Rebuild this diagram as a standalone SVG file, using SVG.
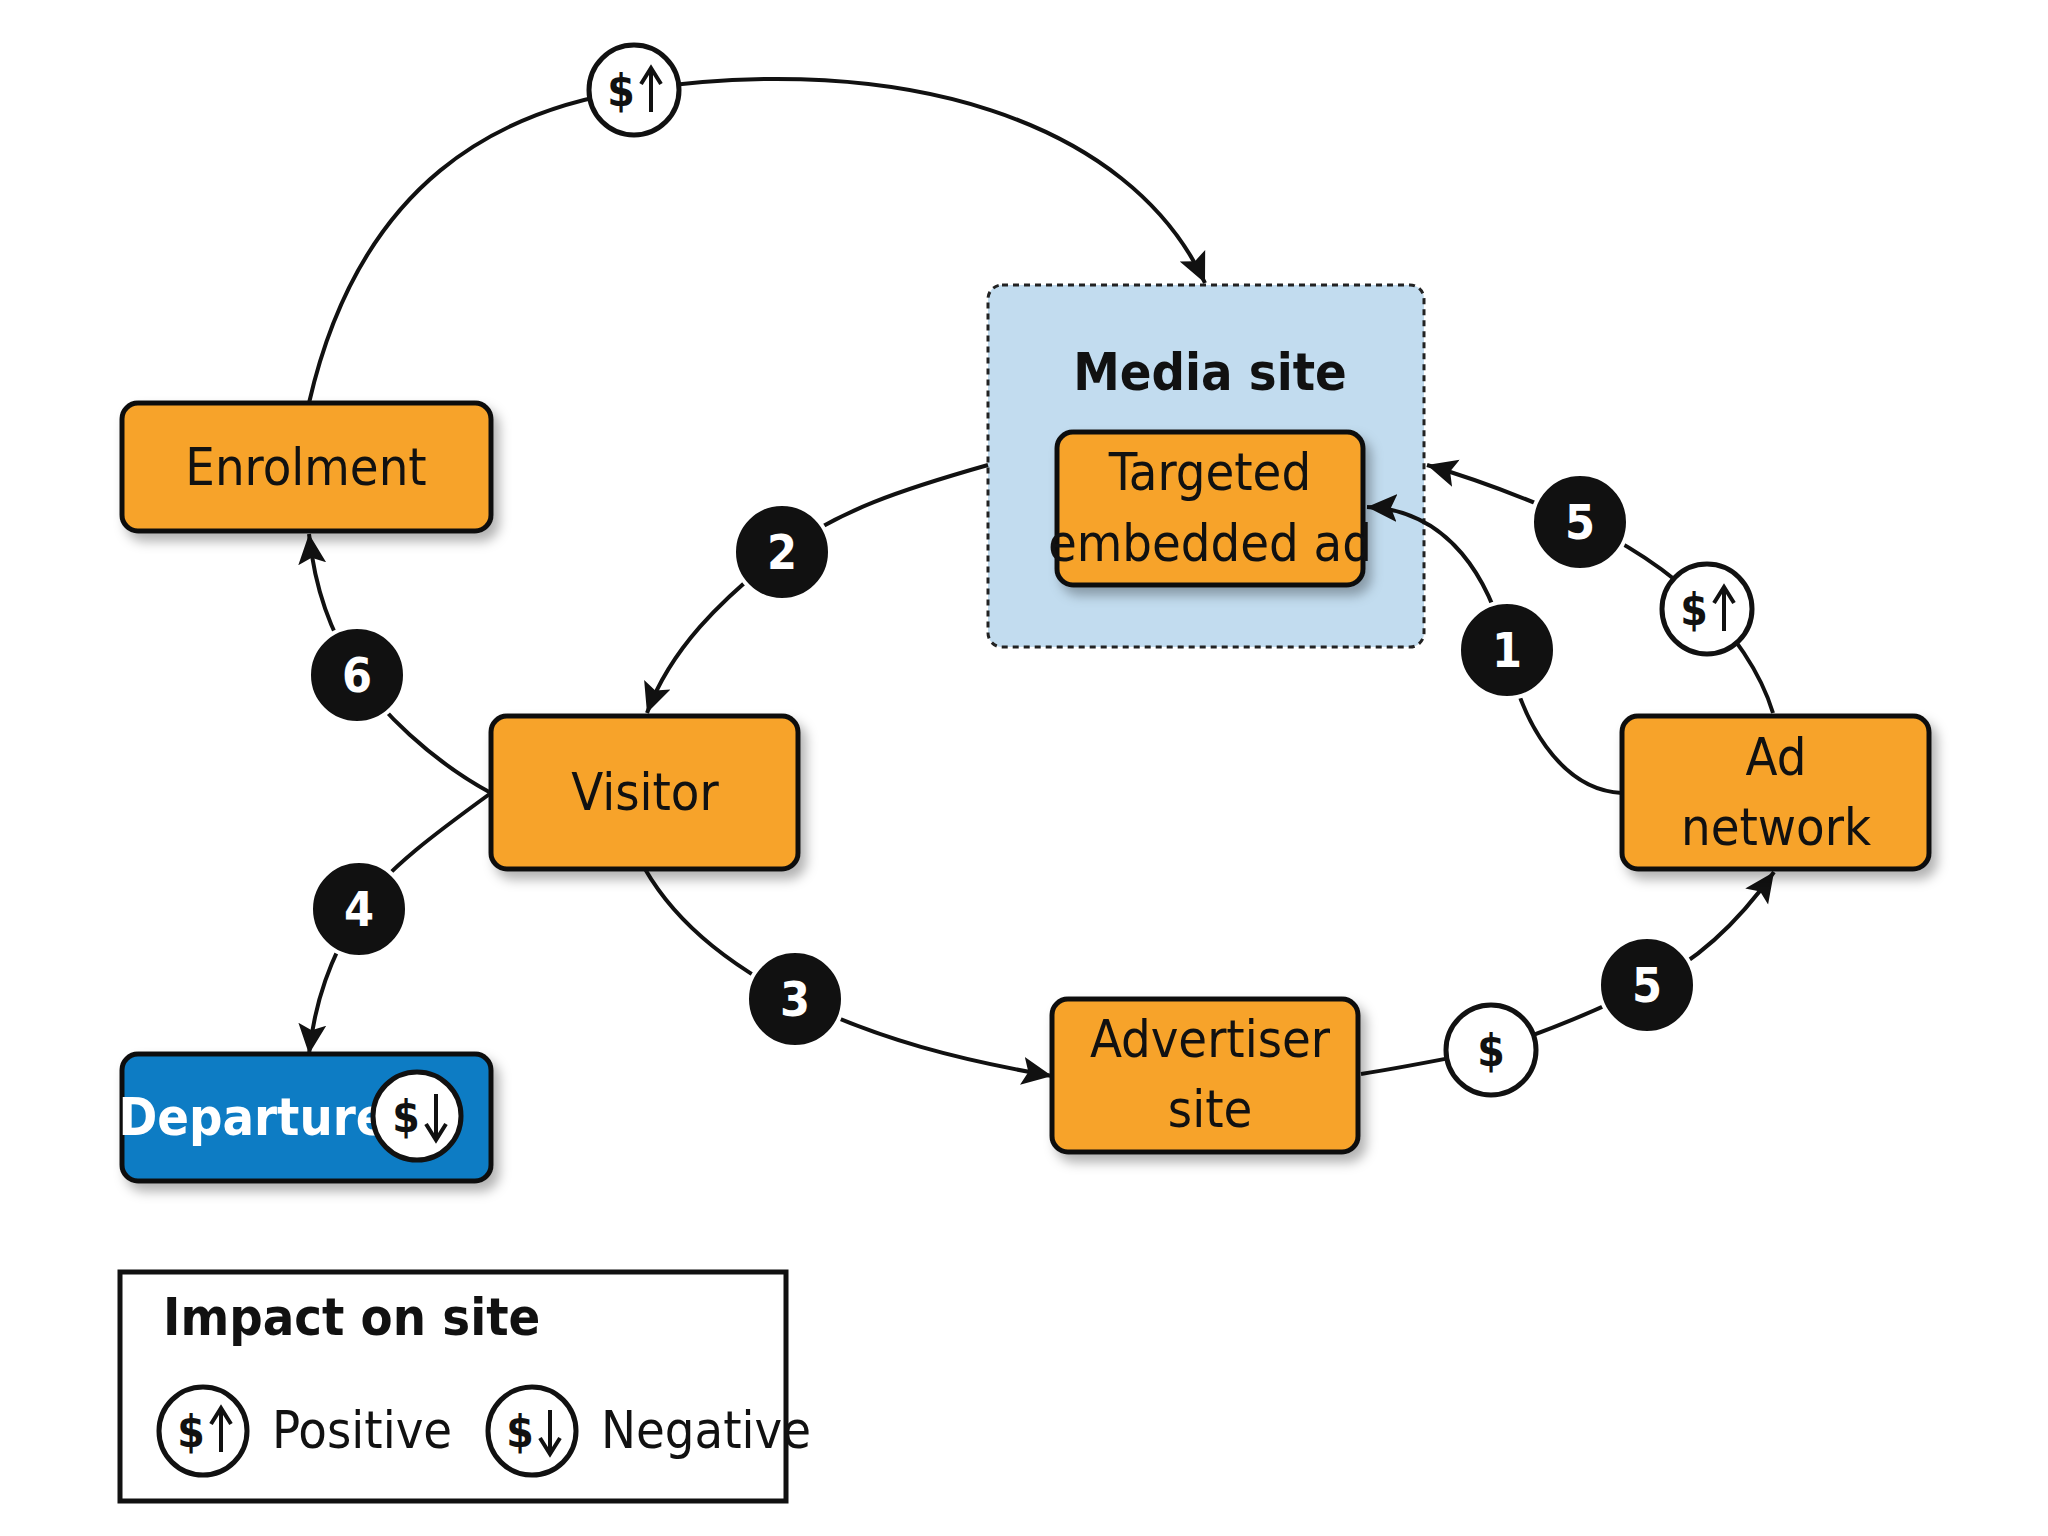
<svg xmlns="http://www.w3.org/2000/svg" width="2048" height="1536" viewBox="0 0 2048 1536">
<style>
.box{fill:#f7a32b;stroke:#111;stroke-width:5}
.t{font-family:"Liberation Sans Narrow","DejaVu Sans Condensed",sans-serif;font-size:52px;fill:#111;text-anchor:middle}
.b{font-weight:bold}
.c{fill:none;stroke:#111;stroke-width:4}
.num{fill:#111;stroke:#fff;stroke-width:4}
.nt{font-family:"Liberation Sans Narrow","DejaVu Sans Condensed",sans-serif;font-size:48px;font-weight:bold;fill:#fff;text-anchor:middle}
.dol{fill:#fff;stroke:#111;stroke-width:5}
.dt{font-family:"Liberation Sans Narrow","DejaVu Sans Condensed",sans-serif;font-size:44px;font-weight:bold;fill:#111;text-anchor:middle}
</style>
<defs>
<filter id="sh" x="-10%" y="-10%" width="130%" height="140%"><feDropShadow dx="6" dy="8" stdDeviation="6" flood-color="#000" flood-opacity="0.3"/></filter>
<marker id="a" viewBox="0 0 10 10" refX="9" refY="5" markerWidth="8" markerHeight="8" markerUnits="userSpaceOnUse" orient="auto" style="overflow:visible"><path d="M0,0L10,5L0,10z" fill="#111" transform="scale(3.2) translate(-7,-3.4) scale(0.68)"/></marker>
<marker id="ar" viewBox="-30 -16 32 32" refX="0" refY="0" markerWidth="32" markerHeight="32" markerUnits="userSpaceOnUse" orient="auto"><path d="M0,0L-30,-14L-24,0L-30,14z" fill="#111"/></marker>
</defs>
<rect width="2048" height="1536" fill="#fff"/>
<g id="media-site"><rect x="988" y="285" width="436" height="362" rx="14" fill="#c2dcef" stroke="#222" stroke-width="3" stroke-dasharray="6,5"/><text class="t b" x="1210" y="390">Media site</text></g>
<g id="connectors">
<path class="c" d="M309,403 C360,180 500,110 634,90 C900,50 1130,120 1205,283" marker-end="url(#ar)"/>
<path class="c" d="M988,465 C900,490 840,510 782,552 C720,600 670,650 647,713" marker-end="url(#ar)"/>
<path class="c" d="M491,793 C430,760 380,710 357,675 C330,630 315,590 309,534" marker-end="url(#ar)"/>
<path class="c" d="M491,793 C440,830 385,870 359,909 C330,960 315,1000 309,1054" marker-end="url(#ar)"/>
<path class="c" d="M645,869 C680,930 740,970 795,999 C880,1040 960,1060 1052,1076" marker-end="url(#ar)"/>
<path class="c" d="M1361,1074 C1400,1068 1440,1060 1491,1050 C1550,1030 1600,1010 1647,985 C1700,960 1740,920 1774,872" marker-end="url(#ar)"/>
<path class="c" d="M1773,713 C1760,670 1730,630 1707,609 C1670,570 1620,540 1580,522 C1530,500 1480,480 1427,465" marker-end="url(#ar)"/>
<path class="c" d="M1622,793 C1560,790 1520,720 1507,650 C1490,580 1450,510 1367,507" marker-end="url(#ar)"/>
</g>
<g id="enrolment"><rect class="box" x="122" y="403" width="369" height="128" rx="16" filter="url(#sh)"/><text class="t" x="306" y="485">Enrolment</text></g>
<g id="targeted"><rect class="box" x="1057" y="432" width="306" height="153" rx="16" filter="url(#sh)"/><text class="t" x="1210" y="490">Targeted</text><text class="t" x="1210" y="561">embedded ad</text></g>
<g id="visitor"><rect class="box" x="491" y="716" width="307" height="153" rx="16" filter="url(#sh)"/><text class="t" x="645" y="810">Visitor</text></g>
<g id="ad-network"><rect class="box" x="1622" y="716" width="307" height="153" rx="16" filter="url(#sh)"/><text class="t" x="1776" y="775">Ad</text><text class="t" x="1776" y="845">network</text></g>
<g id="advertiser"><rect class="box" x="1052" y="999" width="306" height="153" rx="16" filter="url(#sh)"/><text class="t" x="1210" y="1057">Advertiser</text><text class="t" x="1210" y="1127">site</text></g>
<g id="departure"><rect x="122" y="1054" width="369" height="127" rx="16" fill="#0a7cc4" stroke="#111" stroke-width="5" filter="url(#sh)"/><text class="t b" x="253" y="1135" style="fill:#fff">Departure</text><circle class="dol" cx="417" cy="1116" r="44"/><text class="dt" x="406" y="1132">$</text><path d="M436,1094V1136M426,1124L436,1140L446,1124" fill="none" stroke="#111" stroke-width="4"/></g>
<g id="badges">
<circle class="dol" cx="634" cy="90" r="45"/><text class="dt" x="621" y="106">$</text><path d="M651,112V72M641,84L651,68L661,84" fill="none" stroke="#111" stroke-width="4"/>
<circle class="dol" cx="1707" cy="609" r="45"/><text class="dt" x="1694" y="625">$</text><path d="M1724,631V591M1714,603L1724,587L1734,603" fill="none" stroke="#111" stroke-width="4"/>
<circle class="dol" cx="1491" cy="1050" r="45"/><text class="dt" x="1491" y="1066">$</text>
<circle class="num" cx="782" cy="552" r="48"/><text class="nt" x="782" y="569">2</text>
<circle class="num" cx="357" cy="675" r="48"/><text class="nt" x="357" y="692">6</text>
<circle class="num" cx="359" cy="909" r="48"/><text class="nt" x="359" y="926">4</text>
<circle class="num" cx="795" cy="999" r="48"/><text class="nt" x="795" y="1016">3</text>
<circle class="num" cx="1507" cy="650" r="48"/><text class="nt" x="1507" y="667">1</text>
<circle class="num" cx="1580" cy="522" r="48"/><text class="nt" x="1580" y="539">5</text>
<circle class="num" cx="1647" cy="985" r="48"/><text class="nt" x="1647" y="1002">5</text>
</g>
<g id="legend"><rect x="120" y="1272" width="666" height="229" fill="#fff" stroke="#111" stroke-width="5"/>
<text class="t b" x="163" y="1335" style="text-anchor:start">Impact on site</text>
<circle class="dol" cx="203" cy="1431" r="44"/><text class="dt" x="191" y="1447">$</text><path d="M221,1452V1412M211,1424L221,1408L231,1424" fill="none" stroke="#111" stroke-width="4"/>
<text class="t" x="272" y="1448" style="text-anchor:start">Positive</text>
<circle class="dol" cx="532" cy="1431" r="44"/><text class="dt" x="520" y="1447">$</text><path d="M550,1410V1450M540,1438L550,1454L560,1438" fill="none" stroke="#111" stroke-width="4"/>
<text class="t" x="601" y="1448" style="text-anchor:start">Negative</text>
</g>
</svg>
